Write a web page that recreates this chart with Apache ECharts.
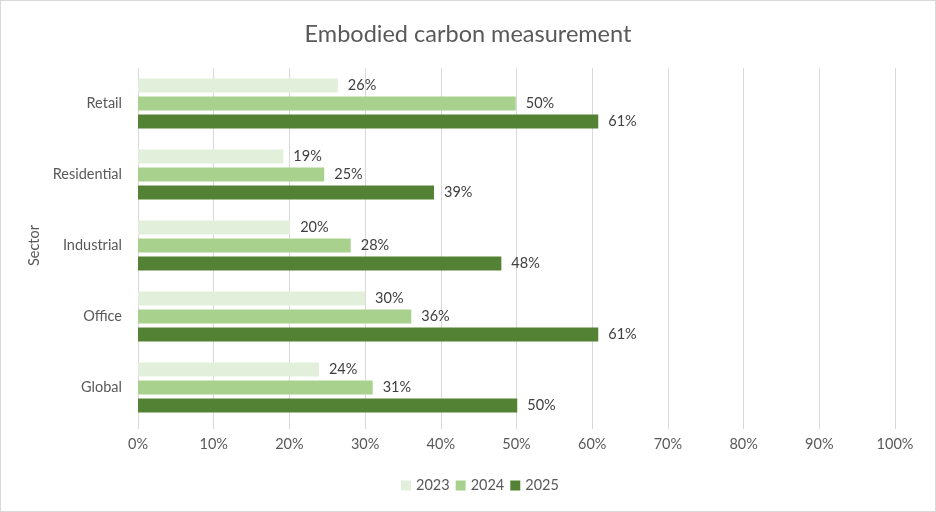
<!DOCTYPE html>
<html><head><meta charset="utf-8">
<script src="https://cdn.jsdelivr.net/npm/echarts@6/dist/echarts.min.js"></script>
<style>html,body{margin:0;padding:0;background:#fff}#c{width:936px;height:512px;box-sizing:border-box;border:1px solid #d9d9d9}</style>
</head><body><div id="c"></div>
<script>
const categories = ['Global', 'Office', 'Industrial', 'Residential', 'Retail'];
const s2023 = [23.9, 30.0, 20.1, 19.2, 26.4];
const s2024 = [31.0, 36.1, 28.1, 24.6, 49.9];
const s2025 = [50.1, 60.8, 48.0, 39.1, 60.8];
const xTicks = [0, 10, 20, 30, 40, 50, 60, 70, 80, 90, 100];
const seriesNames = ['2023', '2024', '2025'];
const colors = ['#E2EFDA', '#A9D18E', '#548235'];
const font = 'Lato, "Open Sans", sans-serif';
const chart = echarts.init(document.getElementById('c'));
const mk = (name, data, color) => ({
  name, type: 'bar', data, barWidth: 14, barGap: '28%',
  itemStyle: { color },
  label: { show: true, position: 'right', distance: 10, color: '#404040', fontSize: 14.5, fontFamily: font,
    formatter: p => Math.round(p.value) + '%' }
});
chart.setOption({
  animation: false,
  title: { text: 'Embodied carbon measurement', left: 'center', top: 16,
    textStyle: { color: '#595959', fontSize: 23.5, fontWeight: 'normal', fontFamily: font } },
  legend: { data: seriesNames, bottom: 13, left: 395, itemWidth: 10, itemHeight: 10, itemGap: 6,
    icon: 'rect', textStyle: { color: '#595959', fontSize: 14.5, fontFamily: font } },
  grid: { left: 137, right: 40, top: 67, bottom: 88, containLabel: false },
  xAxis: { type: 'value', min: 0, max: 100, interval: 10,
    axisLabel: { formatter: v => xTicks.includes(v) ? v + '%' : '', color: '#595959', fontSize: 14.5, fontFamily: font, margin: 14 },
    splitLine: { lineStyle: { color: '#d9d9d9' } },
    axisTick: { show: true, length: 6, lineStyle: { color: '#d9d9d9' } },
    axisLine: { show: false } },
  yAxis: { type: 'category', data: categories,
    name: 'Sector', nameLocation: 'middle', nameGap: 90, nameRotate: 90,
    nameTextStyle: { color: '#595959', fontSize: 14.5, fontFamily: font },
    axisLabel: { color: '#595959', fontSize: 14.5, fontFamily: font, margin: 16 },
    axisTick: { show: false }, axisLine: { show: false } },
  series: [mk('2023', s2023, colors[0]), mk('2024', s2024, colors[1]), mk('2025', s2025, colors[2])]
});
</script></body></html>
